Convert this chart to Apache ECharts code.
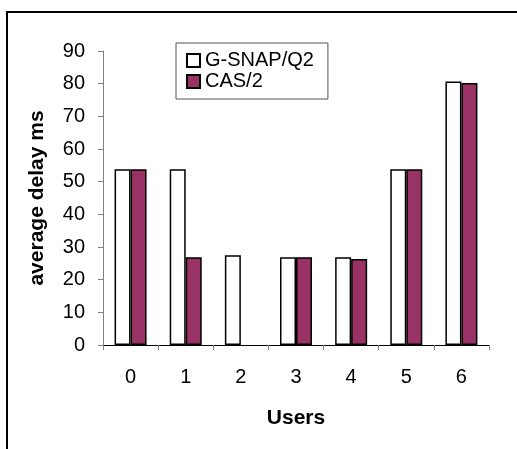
<!DOCTYPE html>
<html>
<head>
<meta charset="utf-8">
<script src="https://cdn.jsdelivr.net/npm/echarts@6/dist/echarts.min.js"></script>
<style>
  html, body { margin: 0; padding: 0; background: #fff; }
  #main { width: 517px; height: 449px; }
</style>
</head>
<body>
<div id="main"></div>
<script>
// data
var users = ['0', '1', '2', '3', '4', '5', '6']
var gsnapQ2 = [53.8, 53.8, 27.5, 26.9, 26.9, 53.8, 80.7]
var cas2 = [53.8, 26.9, null, 26.9, 26.3, 53.8, 80.2]
var yTicks = { min: 0, max: 90, interval: 10 }

var chart = echarts.init(document.getElementById('main'))
var font = 'Liberation Sans, Arial, sans-serif'

chart.setOption({
  animation: false,
  backgroundColor: '#fff',
  textStyle: { fontFamily: font },
  graphic: [{
    type: 'rect',
    shape: { x: 7, y: 12, width: 600, height: 600 },
    style: { fill: 'none', stroke: '#000', lineWidth: 2 },
    silent: true
  }],
  grid: {
    left: 103,
    right: 28,
    top: 51,
    bottom: 104
  },
  legend: {
    orient: 'vertical',
    left: 176,
    top: 43,
    padding: [7, 14, 7, 10],
    itemGap: 0,
    itemWidth: 13,
    itemHeight: 13,
    icon: 'rect',
    borderColor: '#555',
    borderWidth: 1,
    backgroundColor: '#fff',
    textStyle: { fontSize: 20, color: '#000', fontFamily: font, lineHeight: 21 },
    data: ['G-SNAP/Q2', 'CAS/2']
  },
  xAxis: {
    type: 'category',
    data: users,
    name: 'Users',
    nameLocation: 'middle',
    nameGap: 63,
    nameTextStyle: { fontSize: 21, fontWeight: 'bold', color: '#000', fontFamily: font },
    axisLine: { lineStyle: { color: '#000', width: 1 } },
    axisTick: { show: true, length: 5, lineStyle: { color: '#808080' } },
    axisLabel: { fontSize: 20, color: '#000', margin: 22 }
  },
  yAxis: {
    type: 'value',
    min: yTicks.min,
    max: yTicks.max,
    interval: yTicks.interval,
    name: 'average delay ms',
    nameLocation: 'middle',
    nameGap: 55,
    nameTextStyle: { fontSize: 21, fontWeight: 'bold', color: '#000', fontFamily: font },
    axisLine: { show: true, lineStyle: { color: '#808080', width: 1 } },
    axisTick: { show: true, length: 5, lineStyle: { color: '#808080' } },
    axisLabel: { fontSize: 20, color: '#000', margin: 18 },
    splitLine: { show: false }
  },
  series: [{
    name: 'G-SNAP/Q2',
    type: 'bar',
    data: gsnapQ2,
    barWidth: 16,
    barGap: '0%',
    itemStyle: { color: '#ffffff', borderColor: '#000', borderWidth: 1.5 }
  },
  {
    name: 'CAS/2',
    type: 'bar',
    data: cas2,
    barWidth: 16,
    barGap: '0%',
    itemStyle: { color: '#993366', borderColor: '#000', borderWidth: 1.5 }
  }]
})
</script>
</body>
</html>
